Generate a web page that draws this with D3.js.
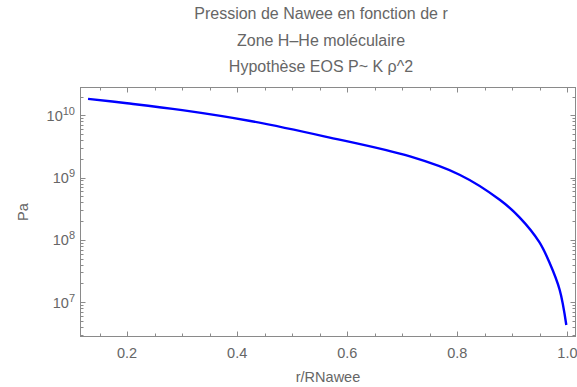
<!DOCTYPE html>
<html>
<head>
<meta charset="utf-8">
<script src="https://cdn.jsdelivr.net/npm/d3@7"></script>
<style>
  html, body { margin: 0; padding: 0; background: #fff; }
  svg { display: block; font-family: "Liberation Sans", Arial, sans-serif; }
</style>
</head>
<body>
<svg id="chart" width="577" height="387"></svg>
<script>
// Pressure profile in the molecular H-He zone (P ~ K rho^2)
const radius = [0.129, 0.20, 0.30, 0.424, 0.560, 0.714, 0.804, 0.877, 0.913, 0.949, 0.967, 0.986, 0.998];
const pressure = [1.83e10, 1.56e10, 1.21e10, 8.1e9, 4.55e9, 2.18e9, 1.11e9, 4.4e8, 2.3e8, 9.2e7, 4.4e7, 1.57e7, 4.3e6];
const xTicks = [0.2, 0.4, 0.6, 0.8, 1.0];
const xTickLabels = ["0.2", "0.4", "0.6", "0.8", "1.0"];
const yExponents = [7, 8, 9, 10];
const titleLines = ["Pression de Nawee en fonction de r", "Zone H\u2013He mol\u00e9culaire", "Hypoth\u00e8se EOS P~ K \u03c1^2"];

const svg = d3.select("#chart");
const plotLeft = 80.5, plotRight = 575.5, plotTop = 87.5, plotBottom = 336.5;
const textColor = "#666";
const frameColor = "#8a8a8a";

const x = d3.scaleLinear().domain([0.1153, 1.0147]).range([plotLeft, plotRight]);
const y = d3.scaleLog().domain([2.81e6, 2.79e10]).range([plotBottom, plotTop]);

// Titles, centred over the whole graphic including the tick labels
svg.append("g").selectAll("text").data(titleLines).join("text")
  .attr("x", 321)
  .attr("y", (d, i) => 19 + i * 26.5)
  .attr("text-anchor", "middle")
  .attr("font-size", 16)
  .attr("fill", textColor)
  .text(d => d);

// Curve
const pts = radius.map((r, i) => [r, pressure[i]]);
svg.append("path")
  .datum(pts)
  .attr("fill", "none")
  .attr("stroke", "#0000ff")
  .attr("stroke-width", 2.4)
  .attr("stroke-linejoin", "round")
  .attr("d", d3.line().x(d => x(d[0])).y(d => y(d[1])).curve(d3.curveCatmullRom.alpha(0.5)));

// Frame ticks (inward, mirrored on opposite sides)
const ticks = svg.append("g").attr("stroke", frameColor).attr("stroke-width", 1);
const xMinor = d3.range(0.15, 1.0101, 0.05).filter(v => xTicks.every(t => Math.abs(t - v) > 1e-6));
function xTick(v, len) {
  const px = Math.round(x(v)) + 0.5;
  ticks.append("line").attr("x1", px).attr("x2", px).attr("y1", plotBottom).attr("y2", plotBottom - len);
  ticks.append("line").attr("x1", px).attr("x2", px).attr("y1", plotTop).attr("y2", plotTop + len);
}
xTicks.forEach(v => xTick(v, 5));
xMinor.forEach(v => xTick(v, 3));

function yTick(v, len) {
  const py = Math.round(y(v)) + 0.5;
  ticks.append("line").attr("x1", plotLeft).attr("x2", plotLeft + len).attr("y1", py).attr("y2", py);
  ticks.append("line").attr("x1", plotRight).attr("x2", plotRight - len).attr("y1", py).attr("y2", py);
}
for (let e = 6; e <= 10; e++) {
  for (let m = 1; m <= 9; m++) {
    const v = m * Math.pow(10, e);
    if (v < y.domain()[0] || v > y.domain()[1]) continue;
    yTick(v, m === 1 ? 5 : 3);
  }
}

// Frame
svg.append("rect")
  .attr("x", plotLeft).attr("y", plotTop)
  .attr("width", plotRight - plotLeft).attr("height", plotBottom - plotTop)
  .attr("fill", "none").attr("stroke", frameColor).attr("stroke-width", 1);

// X tick labels
svg.append("g").selectAll("text").data(xTicks).join("text")
  .attr("x", d => x(d))
  .attr("y", plotBottom + 21)
  .attr("text-anchor", "middle")
  .attr("font-size", 14.5)
  .attr("fill", textColor)
  .text((d, i) => xTickLabels[i]);

// Y tick labels: 10 with superscript exponent
const yl = svg.append("g").selectAll("text").data(yExponents).join("text")
  .attr("x", plotLeft - 5.5)
  .attr("y", d => y(Math.pow(10, d)) + 5.5)
  .attr("text-anchor", "end")
  .attr("font-size", 14.5)
  .attr("fill", textColor);
yl.append("tspan").text("10");
yl.append("tspan").attr("dy", -6).attr("font-size", 11).text(d => d);

// Axis labels
svg.append("text")
  .attr("x", (plotLeft + plotRight) / 2)
  .attr("y", 382)
  .attr("text-anchor", "middle")
  .attr("font-size", 14.5)
  .attr("fill", textColor)
  .text("r/RNawee");

svg.append("text")
  .attr("transform", `translate(28,${(plotTop + plotBottom) / 2}) rotate(-90)`)
  .attr("text-anchor", "middle")
  .attr("font-size", 14.5)
  .attr("fill", textColor)
  .text("Pa");
</script>
</body>
</html>
